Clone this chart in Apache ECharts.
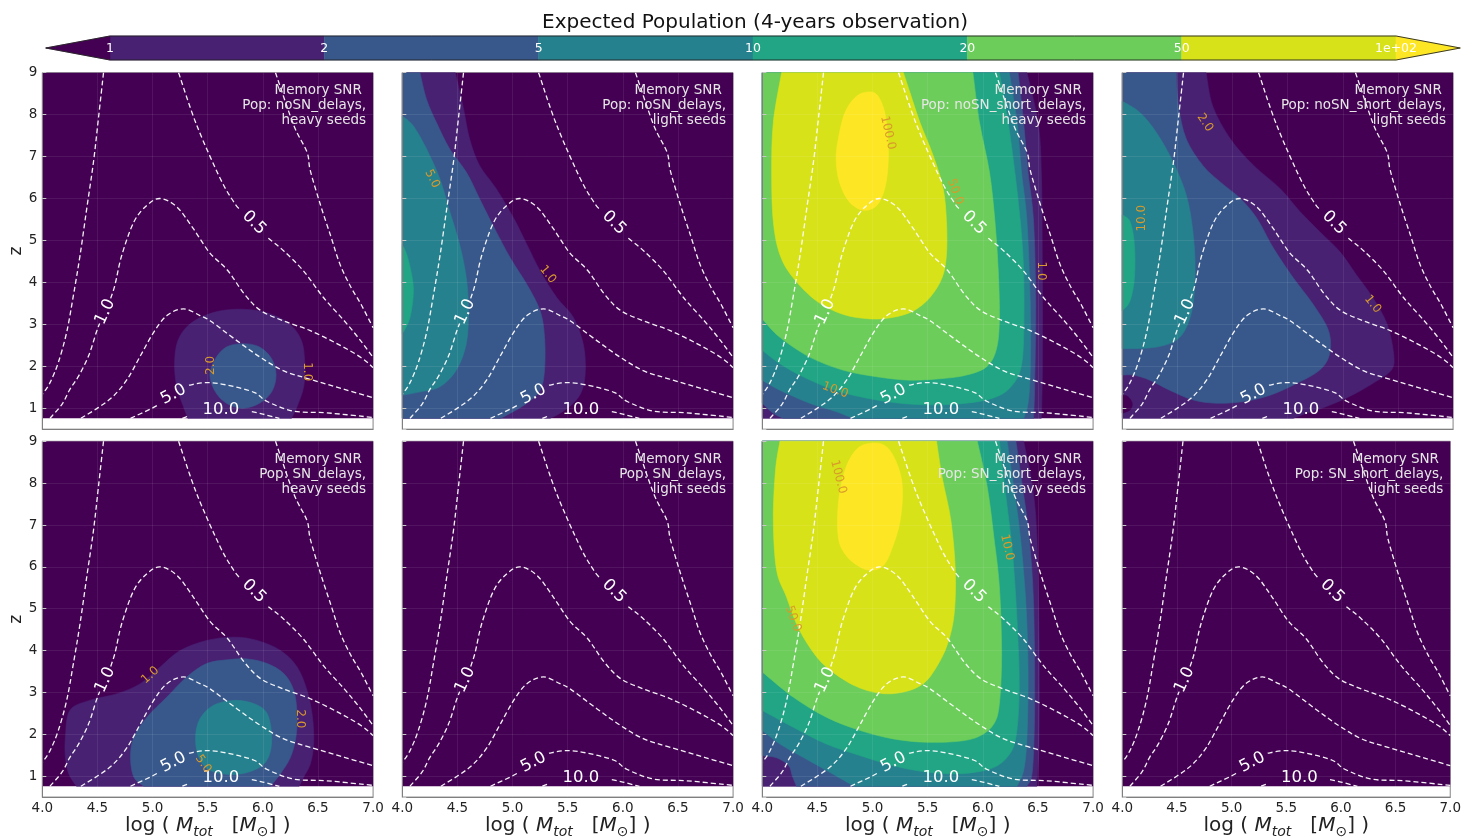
<!DOCTYPE html>
<html><head><meta charset="utf-8">
<script src="https://cdn.jsdelivr.net/npm/echarts@6/dist/echarts.min.js"></script>
<style>html,body{margin:0;padding:0;background:#fff}#c{width:1464px;height:840px}</style>
</head><body><div id="c"></div>
<script>
// ================= DATA =================
// colour-bar levels (expected population) and tick labels
const levelValues = [1, 2, 5, 10, 20, 50, 100];
const cbTickLabels = ['1', '2', '5', '10', '20', '50', '1e+02'];
// data domain of the filled contours (log Mtot, z)
const domainM = [4, 7];
const domainZ = [0.76, 9];

// Memory-SNR dashed contours (same in every panel): [logM, z]
const snrLeft = [[4.555,9.0],[4.509,7.91],[4.464,6.87],[4.403,5.76],[4.342,4.64],[4.282,3.69],[4.221,2.81],[4.145,2.09],[4.07,1.61],[4.0,1.33]];
const snr1Low = [[4.07,0.76],[4.18,1.10],[4.25,1.45],[4.33,1.77],[4.42,2.25],[4.49,2.81],[4.52,3.02]];
const snr1High = [[4.62,3.62],[4.66,3.95],[4.72,4.64],[4.83,5.44],[4.95,5.84],[5.07,6.0],[5.22,5.80],[5.37,5.28],[5.52,4.70],[5.68,4.29],[5.83,3.73],[5.98,3.33],[6.19,3.08],[6.43,2.85],[6.68,2.53],[6.89,2.21],[7.0,1.97]];
const snr05High = [[5.236,9.0],[5.40,7.75],[5.615,6.47],[5.736,5.92],[5.79,5.74]];
const snr05Low = [[6.05,5.05],[6.19,4.75],[6.37,4.27],[6.55,3.64],[6.74,3.08],[6.89,2.6],[7.0,2.21]];
const snr2 = [[4.35,0.76],[4.51,1.02],[4.645,1.29],[4.77,1.69],[4.89,2.25],[5.01,2.81],[5.13,3.21],[5.28,3.37],[5.43,3.21],[5.525,3.08],[5.77,2.60],[5.98,2.21],[6.19,1.89],[6.43,1.69],[6.74,1.45],[7.0,1.25]];
const snr5Left = [[4.80,0.76],[4.98,0.98],[5.05,1.08]];
const snr5Right = [[5.33,1.55],[5.49,1.61],[5.68,1.55],[5.92,1.38],[6.04,1.16],[6.28,0.93],[6.58,0.89],[7.0,0.78]];
const snr10Left = [[5.27,0.76],[5.33,0.82]];
const snr10Right = [[5.90,0.92],[6.0,0.86],[6.1,0.79],[6.15,0.76]];
const snrRight = [[6.115,9.0],[6.28,7.75],[6.40,7.11],[6.43,6.67],[6.52,5.87],[6.62,5.07],[6.70,4.43],[6.80,3.88],[6.89,3.48],[7.0,2.92]];
const snrCurves = [snrLeft, snr1Low, snr1High, snr05High, snr05Low, snr2, snr5Left, snr5Right, snr10Left, snr10Right, snrRight];
// SNR contour labels: [text, logM, z, angle]
const snrLabels = [['1.0',4.57,3.30,65],['0.5',5.92,5.42,-45],['5.0',5.19,1.33,28],['10.0',5.62,0.97,0]];

// Filled population contours: regions with population >= level
const p1_ge1 = [[5.20,2.06],[5.23,2.61],[5.34,3.01],[5.55,3.28],[5.79,3.36],[6.03,3.28],[6.24,3.01],[6.35,2.61],[6.38,2.06],[6.37,1.51],[6.31,1.04],[6.26,0.76],[5.32,0.76],[5.28,1.04],[5.22,1.51]];
const p1_ge2 = [[5.52,1.79],[5.57,2.18],[5.67,2.46],[5.82,2.54],[5.97,2.46],[6.08,2.18],[6.12,1.79],[6.08,1.39],[5.97,1.12],[5.82,1.0],[5.67,1.12],[5.57,1.39]];

const p2_ge1 = [[4,9],[4.48,9],[4.55,8.2],[4.61,7.42],[4.70,6.79],[4.85,6.24],[5.01,5.53],[5.13,4.90],[5.25,4.27],[5.40,3.64],[5.55,3.17],[5.64,2.54],[5.66,1.91],[5.63,1.43],[5.55,1.12],[5.43,0.88],[5.34,0.76],[4,0.76]];
const p2_ge2 = [[4,9],[4.16,9],[4.22,8.36],[4.31,7.81],[4.43,7.18],[4.58,6.63],[4.70,6.0],[4.82,5.37],[4.98,4.58],[5.13,3.95],[5.25,3.32],[5.29,2.69],[5.29,1.91],[5.25,1.43],[5.13,1.12],[4.98,0.88],[4.89,0.76],[4,0.76]];
const p2_ge5 = [[4,7.97],[4.10,7.73],[4.22,7.18],[4.34,6.47],[4.43,5.69],[4.52,4.90],[4.58,4.11],[4.60,3.32],[4.58,2.54],[4.49,1.91],[4.34,1.51],[4.16,1.39],[4,1.31]];
const p2_ge10 = [[4,4.90],[4.05,4.58],[4.10,3.87],[4.07,3.17],[4,2.77]];

const p3_ge1 = [[4,9],[6.40,9],[6.50,7.81],[6.53,6.63],[6.54,4.27],[6.54,1.91],[6.53,0.76],[4,0.76]];
const p3_ge2 = [[4,9],[6.32,9],[6.37,7.81],[6.41,6.63],[6.46,5.45],[6.48,3.48],[6.47,1.51],[6.46,0.76],[4.19,0.76],[4.10,0.88],[4,1.12]];
const p3_ge5 = [[4,9],[6.24,9],[6.31,7.81],[6.35,6.63],[6.40,5.45],[6.43,3.48],[6.43,1.91],[6.41,1.12],[6.37,0.76],[4.82,0.76],[4.67,0.92],[4.43,1.12],[4.16,1.43],[4,1.67]];
const p3_ge10 = [[4,9],[6.15,9],[6.23,7.81],[6.29,6.63],[6.34,5.45],[6.37,4.27],[6.37,2.69],[6.34,1.91],[6.24,1.47],[6.09,1.24],[5.85,1.12],[5.55,1.08],[5.25,1.12],[4.95,1.24],[4.66,1.43],[4.37,1.75],[4.16,2.06],[4,2.38]];
const p3_ge20 = [[4,9],[5.91,9],[5.97,7.81],[6.06,6.63],[6.11,5.45],[6.14,4.27],[6.15,3.09],[6.12,2.38],[6.03,1.98],[5.85,1.79],[5.64,1.71],[5.34,1.67],[5.04,1.75],[4.73,1.91],[4.43,2.22],[4.16,2.69],[4,3.13]];
const p3_ge50 = [[4.175,9],[4.10,7.81],[4.085,6.63],[4.10,5.45],[4.16,4.66],[4.28,4.11],[4.49,3.56],[4.73,3.24],[4.98,3.13],[5.19,3.17],[5.37,3.32],[5.52,3.64],[5.63,4.11],[5.67,4.66],[5.67,5.45],[5.64,6.24],[5.55,7.02],[5.43,7.81],[5.34,8.52],[5.28,9]];
const p3_ge100 = [[4.976,8.54],[4.855,8.44],[4.75,8.05],[4.69,7.42],[4.67,6.94],[4.70,6.39],[4.79,5.92],[4.92,5.72],[5.04,5.84],[5.11,6.24],[5.14,6.79],[5.14,7.42],[5.11,8.05],[5.05,8.44]];

const p4_ge1 = [[4,9],[4.76,9],[4.82,8.2],[4.98,7.42],[5.19,6.79],[5.43,6.24],[5.61,5.69],[5.79,5.21],[5.97,4.74],[6.12,4.19],[6.27,3.64],[6.40,3.01],[6.46,2.30],[6.44,1.91],[6.27,1.59],[6.06,1.28],[5.85,1.04],[5.67,0.88],[5.55,0.76],[4,0.76]];
const p4_lt1 = [[4,1.31],[4.05,1.28],[4.09,1.12],[4.07,0.96],[4,0.88]];
const p4_ge2 = [[4,9],[4.49,9],[4.51,8.2],[4.58,7.42],[4.73,6.79],[4.89,6.39],[5.07,6.0],[5.22,5.53],[5.37,4.82],[5.55,4.11],[5.73,3.48],[5.87,2.85],[5.88,2.30],[5.79,1.91],[5.58,1.59],[5.34,1.31],[5.10,1.16],[4.85,1.12],[4.64,1.20],[4.43,1.43],[4.25,1.67],[4.10,1.79],[4,1.79]];
const p4_ge5 = [[4,8.32],[4.16,8.05],[4.31,7.57],[4.46,6.87],[4.58,6.08],[4.64,5.21],[4.66,4.27],[4.63,3.32],[4.52,2.69],[4.31,2.46],[4,2.42]];
const p4_ge10 = [[4,5.61],[4.07,5.45],[4.11,4.90],[4.11,4.11],[4.07,3.56],[4,3.32]];

const p5_ge1 = [[4.21,1.93],[4.25,2.57],[4.43,2.81],[4.68,2.97],[4.89,3.21],[5.07,3.61],[5.25,4.00],[5.49,4.24],[5.74,4.32],[5.95,4.24],[6.16,4.00],[6.31,3.61],[6.40,3.05],[6.45,2.41],[6.46,1.77],[6.43,1.29],[6.37,0.98],[6.33,0.76],[4.31,0.76],[4.24,1.06],[4.21,1.45]];
const p5_ge2 = [[4.80,1.45],[4.83,1.93],[4.95,2.41],[5.13,2.89],[5.31,3.37],[5.49,3.69],[5.68,3.78],[5.86,3.80],[6.04,3.69],[6.19,3.45],[6.28,3.05],[6.31,2.49],[6.30,1.93],[6.25,1.45],[6.16,1.06],[6.07,0.76],[4.92,0.76],[4.83,0.98]];
const p5_ge5 = [[5.39,1.93],[5.43,2.37],[5.55,2.69],[5.74,2.81],[5.92,2.73],[6.04,2.49],[6.08,1.93],[6.05,1.45],[5.95,1.18],[5.74,1.04],[5.52,1.14],[5.42,1.45]];

const p7_ge1 = [[4,9],[6.37,9],[6.45,7.91],[6.49,6.71],[6.51,4.32],[6.51,1.93],[6.49,0.76],[4,0.76]];
const p7_ge2 = [[4,9],[6.30,9],[6.36,7.91],[6.42,6.71],[6.46,5.12],[6.47,2.73],[6.45,1.14],[6.40,0.76],[4.31,0.76],[4.27,1.02],[4.24,1.25],[4.13,1.44],[4,1.49]];
const p7_ge5 = [[4,9],[6.22,9],[6.28,7.91],[6.34,6.71],[6.39,5.12],[6.41,3.53],[6.40,1.93],[6.37,1.14],[6.31,0.76],[4.83,0.76],[4.74,0.90],[4.58,1.14],[4.37,1.45],[4.16,1.77],[4,2.09]];
const p7_ge10 = [[4,9],[6.15,9],[6.21,7.67],[6.27,6.31],[6.31,4.72],[6.33,3.13],[6.30,1.93],[6.22,1.45],[6.07,1.18],[5.80,1.06],[5.49,1.10],[5.19,1.25],[4.89,1.49],[4.58,1.77],[4.28,2.17],[4,2.57]];
const p7_ge20 = [[4,9],[5.95,9],[6.04,7.91],[6.10,6.71],[6.15,5.52],[6.17,3.92],[6.15,2.73],[6.10,2.25],[5.98,1.97],[5.80,1.84],[5.49,1.81],[5.19,1.89],[4.89,2.09],[4.58,2.41],[4.28,2.89],[4,3.49]];
const p7_ge50 = [[4.16,9],[4.12,8.31],[4.10,7.11],[4.13,5.92],[4.22,5.28],[4.31,4.64],[4.43,4.08],[4.58,3.61],[4.83,3.17],[5.07,2.98],[5.28,3.01],[5.46,3.21],[5.58,3.61],[5.68,4.16],[5.74,4.88],[5.75,5.92],[5.71,7.11],[5.63,8.15],[5.58,9]];
const p7_ge100 = [[5.01,8.96],[4.86,8.82],[4.75,8.31],[4.69,7.51],[4.69,6.71],[4.75,6.31],[4.86,6.04],[4.98,5.92],[5.10,6.04],[5.18,6.47],[5.25,7.11],[5.27,7.91],[5.22,8.47],[5.13,8.86]];

// population contour labels: [text, logM, z, angle]
const p1Labels = [['2.0',5.53,2.02,90],['1.0',6.40,1.87,-90]];
const p2Labels = [['5.0',4.27,6.47,-63],['1.0',5.32,4.19,-51]];
const p3Labels = [['100.0',5.14,7.57,-77],['50.0',5.75,6.16,-70],['1.0',6.53,4.27,-90],['10.0',4.66,1.43,-20]];
const p4Labels = [['2.0',4.75,7.81,-56],['10.0',4.18,5.53,90],['1.0',6.27,3.48,-51]];
const p5Labels = [['1.0',4.98,3.41,42],['2.0',6.34,2.37,-90],['5.0',5.46,1.29,-56]];
const p7Labels = [['100.0',4.69,8.15,-75],['50.0',4.28,4.76,-70],['10.0',6.22,6.47,-77]];

const panelTitles = [
  'Memory SNR \nPop: noSN_delays,\nheavy seeds',
  'Memory SNR \nPop: noSN_delays,\nlight seeds',
  'Memory SNR \nPop: noSN_short_delays,\nheavy seeds',
  'Memory SNR \nPop: noSN_short_delays,\nlight seeds',
  'Memory SNR \nPop: SN_delays,\nheavy seeds',
  'Memory SNR \nPop: SN_delays,\nlight seeds',
  'Memory SNR \nPop: SN_short_delays,\nheavy seeds',
  'Memory SNR \nPop: SN_short_delays,\nlight seeds'
];
const panelFills = [
  [[1,p1_ge1],[2,p1_ge2]],
  [[1,p2_ge1],[2,p2_ge2],[5,p2_ge5],[10,p2_ge10]],
  [[1,p3_ge1],[2,p3_ge2],[5,p3_ge5],[10,p3_ge10],[20,p3_ge20],[50,p3_ge50],[100,p3_ge100]],
  [[1,p4_ge1],[0,p4_lt1],[2,p4_ge2],[5,p4_ge5],[10,p4_ge10]],
  [[1,p5_ge1],[2,p5_ge2],[5,p5_ge5]],
  [],
  [[1,p7_ge1],[2,p7_ge2],[5,p7_ge5],[10,p7_ge10],[20,p7_ge20],[50,p7_ge50],[100,p7_ge100]],
  []
];
const panelLabels = [p1Labels, p2Labels, p3Labels, p4Labels, p5Labels, [], p7Labels, []];

// ================= STYLE / LAYOUT =================
const FONT = '"DejaVu Sans", "Noto Sans", sans-serif';
const underColor = '#440154';
const overColor = '#fde725';
const levelColors = ['#482173', '#38588c', '#26818e', '#21a585', '#6ccd5a', '#d8e219'];
const popLabelColor = '#d99a2b';
const colLeft = [42.3, 402.3, 762.3, 1122.3];
const rowTop = [72.7, 441.3];
const panelW = 330.8, panelH = 356.5;

function colorFor(level) {
  if (level < levelValues[0]) return underColor;
  const i = levelValues.indexOf(level);
  if (i >= levelColors.length) return overColor;
  return levelColors[i];
}
function pxRect(api) {
  const a = api.coord([domainM[0], domainZ[1]]);
  const b = api.coord([domainM[1], domainZ[0]]);
  return {x0: a[0], y0: a[1], x1: b[0], y1: b[1]};
}
function edges(p, r) {
  const e = [];
  if (Math.abs(p[0] - r.x0) < 0.6) e.push('l');
  if (Math.abs(p[0] - r.x1) < 0.6) e.push('r');
  if (Math.abs(p[1] - r.y0) < 0.6) e.push('t');
  if (Math.abs(p[1] - r.y1) < 0.6) e.push('b');
  return e;
}
function sameEdge(p, q, r) { const a = edges(p, r), b = edges(q, r); return a.some(e => b.indexOf(e) >= 0); }
function clampPt(p, r) { return [Math.min(Math.max(p[0], r.x0), r.x1), Math.min(Math.max(p[1], r.y0), r.y1)]; }
function f2(v) { return v.toFixed(2); }
function smoothPath(pts, closed, r) {
  const n = pts.length;
  const get = i => closed ? pts[((i % n) + n) % n] : pts[Math.max(0, Math.min(n - 1, i))];
  const straight = i => sameEdge(get(i), get(i + 1), r);
  const segs = closed ? n : n - 1;
  let d = 'M' + f2(pts[0][0]) + ' ' + f2(pts[0][1]);
  for (let i = 0; i < segs; i++) {
    const p1 = get(i), p2 = get(i + 1);
    if (straight(i)) { d += ' L' + f2(p2[0]) + ' ' + f2(p2[1]); continue; }
    let p0 = get(i - 1), p3 = get(i + 2);
    if (!closed && i === 0) p0 = p1;
    if (!closed && i === segs - 1) p3 = p2;
    if (straight(i - 1)) p0 = p1;
    if (straight(i + 1)) p3 = p2;
    const t = 1 / 6;
    const c1 = clampPt([p1[0] + (p2[0] - p0[0]) * t, p1[1] + (p2[1] - p0[1]) * t], r);
    const c2 = clampPt([p2[0] - (p3[0] - p1[0]) * t, p2[1] - (p3[1] - p1[1]) * t], r);
    d += ' C' + f2(c1[0]) + ' ' + f2(c1[1]) + ' ' + f2(c2[0]) + ' ' + f2(c2[1]) + ' ' + f2(p2[0]) + ' ' + f2(p2[1]);
  }
  if (closed) d += ' Z';
  return d;
}

const grids = [], xAxes = [], yAxes = [], series = [];
const splitStyle = {show: true, lineStyle: {color: 'rgba(255,255,255,0.08)', width: 1}};
const xName = '{t|log ( }{m|M}{s|tot}{t|   [}{m|M}{o|⊙}{t|] )}';

for (let i = 0; i < 8; i++) {
  const r = Math.floor(i / 4), c = i % 4;
  grids.push({left: colLeft[c], top: rowTop[r], width: panelW, height: panelH, show: true,
    borderColor: '#7f7f7f', borderWidth: 1, backgroundColor: 'rgba(0,0,0,0)'});
  xAxes.push({
    gridIndex: i, type: 'value', min: domainM[0], max: domainM[1], interval: 0.5, z: 5,
    axisLine: {show: true, onZero: false, lineStyle: {color: '#7f7f7f'}},
    axisTick: {show: false},
    splitLine: splitStyle,
    axisLabel: {show: r === 1, formatter: v => v.toFixed(1), fontSize: 13.5, color: '#222', margin: 4, fontFamily: FONT},
    name: r === 1 ? xName : '', nameLocation: 'middle', nameGap: 13,
    nameTextStyle: {color: '#222', rich: {
      t: {fontSize: 20, color: '#222', fontFamily: FONT},
      m: {fontSize: 20, color: '#222', fontStyle: 'italic', fontFamily: FONT},
      s: {fontSize: 14, color: '#222', fontStyle: 'italic', fontFamily: FONT, padding: [12, 0, 0, 0]},
      o: {fontSize: 14, color: '#222', fontFamily: FONT, padding: [12, 0, 0, 0]}
    }}
  });
  yAxes.push({
    gridIndex: i, type: 'value', min: 0.5, max: domainZ[1], minInterval: 1, maxInterval: 1, z: 5,
    axisLine: {show: true, onZero: false, lineStyle: {color: '#7f7f7f'}},
    axisTick: {show: true, inside: true, length: 4, lineStyle: {color: '#c8c8c8'}},
    splitLine: splitStyle,
    axisLabel: {show: c === 0, showMinLabel: false, formatter: v => Number.isInteger(v) ? String(v) : '',
      fontSize: 13.5, color: '#222', margin: 5, fontFamily: FONT},
    name: c === 0 ? 'z' : '', nameLocation: 'middle', nameGap: 15, nameRotate: 90,
    nameTextStyle: {fontSize: 17, color: '#222', fontFamily: FONT}
  });

  const fills = [[-1, null]].concat(panelFills[i]);
  series.push({
    type: 'custom', xAxisIndex: i, yAxisIndex: i, z: 1, silent: true, animation: false,
    data: fills.map((f, k) => [domainM[0], domainZ[0], k]),
    renderItem: (params, api) => {
      const rect = pxRect(api);
      const f = fills[params.dataIndex];
      if (f[1] === null) {
        return {type: 'rect', shape: {x: rect.x0, y: rect.y0, width: rect.x1 - rect.x0, height: rect.y1 - rect.y0},
          style: {fill: underColor}};
      }
      const pts = f[1].map(p => api.coord(p));
      const col = colorFor(f[0]);
      return {type: 'path', shape: {pathData: smoothPath(pts, true, rect)}, style: {fill: col, stroke: col, lineWidth: 0.6}};
    }
  });
  series.push({
    type: 'custom', xAxisIndex: i, yAxisIndex: i, z: 2, silent: true, animation: false,
    data: snrCurves.map((cv, k) => [cv[0][0], cv[0][1], k]),
    renderItem: (params, api) => {
      const rect = pxRect(api);
      const pts = snrCurves[params.dataIndex].map(p => api.coord(p));
      return {type: 'path', shape: {pathData: smoothPath(pts, false, rect)},
        style: {fill: 'none', stroke: 'rgba(255,255,255,0.95)', lineWidth: 1.3, lineDash: [5, 3]}};
    }
  });
  const labs = snrLabels.map(l => l.concat(['snr'])).concat(panelLabels[i].map(l => l.concat(['pop'])));
  series.push({
    type: 'custom', xAxisIndex: i, yAxisIndex: i, z: 3, silent: true, animation: false,
    data: labs.map(l => [l[1], l[2]]),
    renderItem: (params, api) => {
      const l = labs[params.dataIndex];
      const p = api.coord([l[1], l[2]]);
      const isSnr = l[4] === 'snr';
      return {type: 'text', x: p[0], y: p[1], rotation: l[3] * Math.PI / 180,
        style: {text: l[0], fill: isSnr ? '#ffffff' : popLabelColor, fontSize: isSnr ? 16.5 : 12,
          fontFamily: FONT, align: 'center', verticalAlign: 'middle'}};
    }
  });
  const title = panelTitles[i];
  series.push({
    type: 'custom', xAxisIndex: i, yAxisIndex: i, z: 4, silent: true, animation: false,
    data: [[domainM[1], domainZ[1]]],
    renderItem: (params, api) => {
      const p = api.coord([domainM[1], domainZ[1]]);
      return {type: 'text', x: p[0] - 7, y: p[1] + 10.5,
        style: {text: title, fill: '#e6e6e6', fontSize: 13.5, fontFamily: FONT, align: 'right',
          verticalAlign: 'top', lineHeight: 15}};
    }
  });
}

// ---- colour bar ----
const cbExt = 0.3;
grids.push({left: 110, top: 36, width: 1286, height: 24, show: false});
xAxes.push({gridIndex: 8, type: 'value', min: 0, max: levelValues.length - 1, interval: 1, z: 10,
  axisLine: {show: false}, axisTick: {show: false}, splitLine: {show: false},
  axisLabel: {inside: true, showMinLabel: true, showMaxLabel: true, formatter: v => cbTickLabels[v],
    color: '#ffffff', fontSize: 12.5, margin: 5, fontFamily: FONT}});
yAxes.push({gridIndex: 8, type: 'value', min: 0, max: 1, show: false});
const nSeg = levelValues.length - 1;
const cbItems = [];
for (let k = 0; k < nSeg; k++) cbItems.push(['seg', k]);
cbItems.push(['under', -1]); cbItems.push(['over', nSeg]); cbItems.push(['outline', 0]);
series.push({
  type: 'custom', xAxisIndex: 8, yAxisIndex: 8, z: 2, silent: true, animation: false,
  data: cbItems.map((it, k) => [it[1], 0, k]),
  renderItem: (params, api) => {
    const it = cbItems[params.dataIndex];
    if (it[0] === 'seg') {
      const a = api.coord([it[1], 1]), b = api.coord([it[1] + 1, 0]);
      return {type: 'rect', shape: {x: a[0], y: a[1], width: b[0] - a[0], height: b[1] - a[1]},
        style: {fill: levelColors[it[1]], stroke: levelColors[it[1]], lineWidth: 0.5}};
    }
    if (it[0] === 'under') {
      const pts = [[-cbExt, 0.5], [0, 1], [0, 0]].map(p => api.coord(p));
      return {type: 'polygon', shape: {points: pts}, style: {fill: underColor, stroke: underColor, lineWidth: 0.5}};
    }
    if (it[0] === 'over') {
      const pts = [[nSeg, 1], [nSeg + cbExt, 0.5], [nSeg, 0]].map(p => api.coord(p));
      return {type: 'polygon', shape: {points: pts}, style: {fill: overColor, stroke: overColor, lineWidth: 0.5}};
    }
    const pts = [[-cbExt, 0.5], [0, 1], [nSeg, 1], [nSeg + cbExt, 0.5], [nSeg, 0], [0, 0]].map(p => api.coord(p));
    return {type: 'polygon', z2: 10, shape: {points: pts}, style: {fill: 'none', stroke: '#222', lineWidth: 0.9}};
  }
});

const chart = echarts.init(document.getElementById('c'), null, {renderer: 'canvas', width: 1464, height: 840});
chart.setOption({
  animation: false,
  backgroundColor: '#ffffff',
  textStyle: {fontFamily: FONT},
  title: {text: 'Expected Population (4-years observation)', left: 750, top: 8, textAlign: 'center',
    textStyle: {fontSize: 20, fontWeight: 'normal', color: '#111', fontFamily: FONT}},
  grid: grids, xAxis: xAxes, yAxis: yAxes, series: series
});
</script>
</body></html>
